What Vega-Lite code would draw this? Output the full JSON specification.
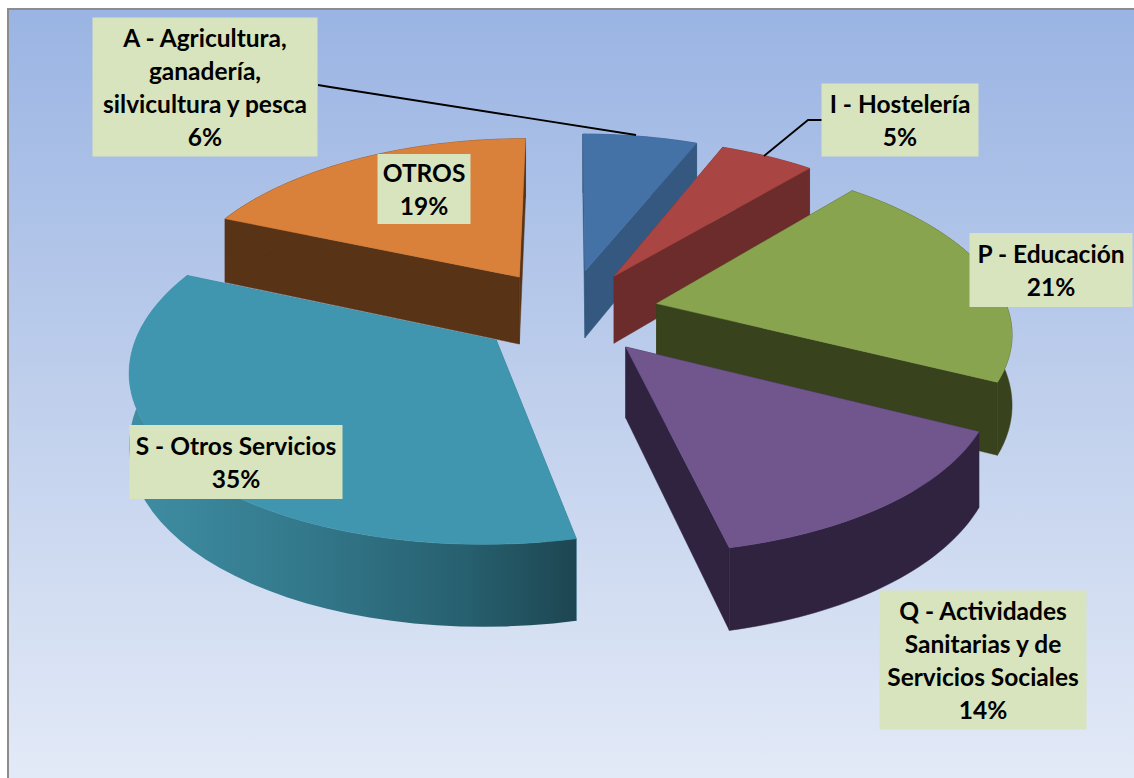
{
"$schema":"https://vega.github.io/schema/vega-lite/v6.json",
"autosize":{"type":"fit","contains":"padding"},
"padding":0,
"width":1134,"height":778,
"background":"#ffffff",
"config":{"view":{"stroke":null}},
"data":{"values":[
{"key":"A","idx":1,"category":"A - Agricultura,\nganadería,\nsilvicultura y pesca","share":6.2},
{"key":"I","idx":2,"category":"I - Hostelería","share":5.1},
{"key":"P","idx":3,"category":"P - Educación","share":21.1},
{"key":"Q","idx":4,"category":"Q - Actividades\nSanitarias y de\nServicios Sociales","share":14.1},
{"key":"S","idx":5,"category":"S - Otros Servicios","share":34.9},
{"key":"O","idx":6,"category":"OTROS","share":18.6}
]},
"params":[
{"name":"R","value":352},{"name":"tilt","value":0.474},{"name":"perspX","value":0.15},{"name":"perspY","value":0.14},
{"name":"cx","value":568},{"name":"cy","value":312},{"name":"boom","value":91},{"name":"depth","value":69}
],
"transform":[
{"stack":"share","sort":[{"field":"idx","order":"ascending"}],"as":["s0","s1"]},
{"calculate":"2*PI*datum.s0/100","as":"a0"},
{"calculate":"2*PI*datum.s1/100","as":"a1"},
{"calculate":"(datum.a0+datum.a1)/2","as":"mid"},
{"calculate":"boom*sin(datum.mid)","as":"ex"},
{"calculate":"-boom*cos(datum.mid)","as":"ez"},
{"calculate":"{A:1,I:2,O:3,P:4,S:5,Q:6}[datum.key]","as":"paint"},
{"calculate":"datum.category+'\\n'+format(datum.share,'.0f')+'%'","as":"label"},
{"calculate":"{A:[205,87,225,139],I:[900,120,157,73],P:[1051,270,163,74],Q:[983,660,207,139],S:[236,462,213,74],O:[424,189,93,70]}[datum.key]","as":"box"}
],
"encoding":{
"x":{"field":"x","type":"quantitative","axis":null,"scale":{"domain":[0,1134],"nice":false,"zero":false}},
"y":{"field":"y","type":"quantitative","axis":null,"scale":{"domain":[0,778],"reverse":true,"nice":false,"zero":false}}
},
"layer":[
{"transform":[
 {"aggregate":[{"op":"sum","field":"share","as":"total"}]},
 {"calculate":"8","as":"x"},{"calculate":"1134","as":"x2"},{"calculate":"9","as":"y"},{"calculate":"778","as":"y2"}
 ],
 "mark":{"type":"rect","fill":{"gradient":"linear","x1":0,"y1":0,"x2":0,"y2":1,"stops":[{"offset":0,"color":"#9ab4e3"},{"offset":0.5,"color":"#bfcfec"},{"offset":1,"color":"#e3eaf7"}]}},
 "encoding":{"x2":{"field":"x2"},"y2":{"field":"y2"}}},
{"transform":[
 {"aggregate":[{"op":"sum","field":"share","as":"total"}]},
 {"calculate":"[7,7]","as":"x"},{"calculate":"[9,1134]","as":"x2"},{"calculate":"[8,8]","as":"y"},{"calculate":"[778,10]","as":"y2"},
 {"flatten":["x","x2","y","y2"]}
 ],
 "mark":{"type":"rect","fill":"#8c8c8c"},
 "encoding":{"x2":{"field":"x2"},"y2":{"field":"y2"}}},
{"transform":[
 {"calculate":"[0,1]","as":"side"},{"flatten":["side"]},
 {"calculate":"[0,1,2,3]","as":"pt"},{"flatten":["pt"]},
 {"calculate":"datum.side==0?datum.a0:datum.a1","as":"a"},
 {"calculate":"(datum.pt==0||datum.pt==3)?0:R","as":"r"},
 {"calculate":"datum.pt>=2?depth:0","as":"h"},
 {"calculate":"datum.ex+datum.r*sin(datum.a)","as":"X"},
 {"calculate":"datum.ez-datum.r*cos(datum.a)","as":"Z"},
 {"calculate":"cx+datum.X/(1-perspX*datum.Z/R)","as":"x"},
 {"calculate":"cy+(tilt*datum.Z+datum.h)/(1-perspY*datum.Z/R)","as":"y"},
 {"calculate":"datum.paint*10+datum.side","as":"face"},
 {"window":[{"op":"row_number","as":"rn"}],"sort":[{"field":"paint"},{"field":"side"},{"field":"pt"}]}
 ],
 "mark":{"type":"line","strokeWidth":0.5,"interpolate":"linear-closed"},
 "encoding":{
  "detail":{"field":"face","type":"nominal"},
  "order":{"field":"rn","type":"quantitative"},
  "fill":{"field":"key","type":"nominal","legend":null,"scale":{"domain":["A","I","P","Q","S","O"],"range":["#34587f","#6c2c2b","#38431d","#2f2340","#2e7385","#583316"]}},
  "stroke":{"field":"key","type":"nominal","legend":null,"scale":{"domain":["A","I","P","Q","S","O"],"range":["#34587f","#6c2c2b","#38431d","#2f2340","#2e7385","#583316"]}}
 }},
{"transform":[
 {"filter":"datum.key!='S'"},
 {"calculate":"sequence(0,82)","as":"t"},{"flatten":["t"]},
 {"calculate":"datum.t<=40?datum.t/40:(81-datum.t)/40","as":"f"},
 {"calculate":"datum.a0+(datum.a1-datum.a0)*datum.f","as":"a"},
 {"calculate":"datum.t<=40?0:depth","as":"h"},
 {"calculate":"datum.ex+R*sin(datum.a)","as":"X"},
 {"calculate":"datum.ez-R*cos(datum.a)","as":"Z"},
 {"calculate":"cx+datum.X/(1-perspX*datum.Z/R)","as":"x"},
 {"calculate":"cy+(tilt*datum.Z+datum.h)/(1-perspY*datum.Z/R)","as":"y"},
 {"window":[{"op":"row_number","as":"rn"}],"sort":[{"field":"paint"},{"field":"t"}]}
 ],
 "mark":{"type":"line","strokeWidth":0.5,"interpolate":"linear-closed"},
 "encoding":{
  "detail":{"field":"paint","type":"nominal"},
  "order":{"field":"rn","type":"quantitative"},
  "fill":{"field":"key","type":"nominal","legend":null,"scale":{"domain":["A","I","P","Q","S","O"],"range":["#34587f","#6c2c2b","#38431d","#2f2340","#2e7385","#583316"]}},
  "stroke":{"field":"key","type":"nominal","legend":null,"scale":{"domain":["A","I","P","Q","S","O"],"range":["#34587f","#6c2c2b","#38431d","#2f2340","#2e7385","#583316"]}}
 }},
{"transform":[
 {"filter":"datum.key=='S'"},
 {"calculate":"sequence(0,82)","as":"t"},{"flatten":["t"]},
 {"calculate":"datum.t<=40?datum.t/40:(81-datum.t)/40","as":"f"},
 {"calculate":"datum.a0+(datum.a1-datum.a0)*datum.f","as":"a"},
 {"calculate":"datum.t<=40?0:depth","as":"h"},
 {"calculate":"datum.ex+R*sin(datum.a)","as":"X"},
 {"calculate":"datum.ez-R*cos(datum.a)","as":"Z"},
 {"calculate":"cx+datum.X/(1-perspX*datum.Z/R)","as":"x"},
 {"calculate":"cy+(tilt*datum.Z+datum.h)/(1-perspY*datum.Z/R)","as":"y"}
 ],
 "mark":{"type":"line","strokeWidth":0,"interpolate":"linear-closed","fill":{"gradient":"linear","x1":0,"y1":0,"x2":1,"y2":0,"stops":[{"offset":0,"color":"#3f8ea4"},{"offset":0.4,"color":"#33788b"},{"offset":0.75,"color":"#27606f"},{"offset":1,"color":"#1d4651"}]}},
 "encoding":{"order":{"field":"t","type":"quantitative"}}},
{"transform":[
 {"calculate":"sequence(-1,61)","as":"t"},{"flatten":["t"]},
 {"calculate":"datum.t<0?datum.a0:datum.a0+(datum.a1-datum.a0)*datum.t/60","as":"a"},
 {"calculate":"datum.t<0?0:R","as":"r"},
 {"calculate":"datum.ex+datum.r*sin(datum.a)","as":"X"},
 {"calculate":"datum.ez-datum.r*cos(datum.a)","as":"Z"},
 {"calculate":"cx+datum.X/(1-perspX*datum.Z/R)","as":"x"},
 {"calculate":"cy+tilt*datum.Z/(1-perspY*datum.Z/R)","as":"y"},
 {"window":[{"op":"row_number","as":"rn"}],"sort":[{"field":"paint"},{"field":"t"}]}
 ],
 "mark":{"type":"line","strokeWidth":0.5,"interpolate":"linear-closed"},
 "encoding":{
  "detail":{"field":"paint","type":"nominal"},
  "order":{"field":"rn","type":"quantitative"},
  "fill":{"field":"key","type":"nominal","legend":null,"scale":{"domain":["A","I","P","Q","S","O"],"range":["#4471a6","#a94543","#89a44e","#71568e","#4096af","#d9813a"]}},
  "stroke":{"field":"key","type":"nominal","legend":null,"scale":{"domain":["A","I","P","Q","S","O"],"range":["#4471a6","#a94543","#89a44e","#71568e","#4096af","#d9813a"]}}
 }},
{"transform":[
 {"filter":"datum.key=='A'||datum.key=='I'"},
 {"calculate":"{A:[318,330,636],I:[823,808,764]}[datum.key]","as":"x"},
 {"calculate":"{A:[85,87,135],I:[120,120,156]}[datum.key]","as":"y"},
 {"calculate":"[0,1,2]","as":"li"},
 {"flatten":["x","y","li"]}
 ],
 "mark":{"type":"line","color":"#000000","strokeWidth":1.8},
 "encoding":{"detail":{"field":"key","type":"nominal"},"order":{"field":"li","type":"quantitative"}}},
{"transform":[
 {"calculate":"datum.box[0]-datum.box[2]/2","as":"x"},
 {"calculate":"datum.box[0]+datum.box[2]/2","as":"x2"},
 {"calculate":"datum.box[1]-datum.box[3]/2","as":"y"},
 {"calculate":"datum.box[1]+datum.box[3]/2","as":"y2"}
 ],
 "mark":{"type":"rect","fill":"#d8e4bd"},
 "encoding":{"x2":{"field":"x2"},"y2":{"field":"y2"}}},
{"transform":[
 {"calculate":"datum.box[0]","as":"x"},
 {"calculate":"datum.box[1]+2-(length(split(datum.label,'\\n'))-1)*16.5","as":"y"}
 ],
 "mark":{"type":"text","font":"Lato","fontWeight":"bold","fontSize":24.5,"color":"#000000","align":"center","baseline":"middle","lineBreak":"\n","lineHeight":33},
 "encoding":{"text":{"field":"label","type":"nominal"}}}
],
"resolve":{"scale":{"fill":"independent","stroke":"independent"}}
}
